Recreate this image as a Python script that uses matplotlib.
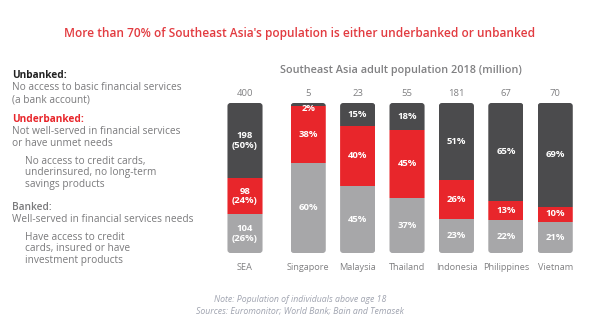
import matplotlib
matplotlib.use("Agg")
import matplotlib.pyplot as plt
from matplotlib.transforms import offset_copy
from matplotlib.patches import FancyBboxPatch

plt.rcParams['font.family'] = ['Open Sans', 'DejaVu Sans']

categories = ["SEA", "Singapore", "Malaysia", "Thailand", "Indonesia", "Philippines", "Vietnam"]
totals = [400, 5, 23, 55, 181, 67, 70]
unbanked_pct = [50, 2, 15, 18, 51, 65, 69]
underbanked_pct = [24, 38, 40, 45, 26, 13, 10]
banked_pct = [26, 60, 45, 37, 23, 22, 21]
sea_counts = {"unbanked": 198, "underbanked": 98, "banked": 104}

DARK = "#4b4b4d"
RED = "#e8262b"
LIGHT = "#a7a7a9"
TXT = "#7a7a7c"

W, H = 600, 336
fig = plt.figure(figsize=(6, 3.36), dpi=100)

def fx(px):
    return px / W

def fy(py):
    return 1 - py / H

fig.text(0.5, fy(33), "More than 70% of Southeast Asia's population is either underbanked or unbanked",
         ha="center", va="center", color="#e23b40", fontsize=8.6, fontweight="semibold")

# Left legend text
left = [
    (12, 75, "Unbanked:", "#222222", "bold"),
    (12, 88, "No access to basic financial services", TXT, "normal"),
    (12, 100, "(a bank account)", TXT, "normal"),
    (12, 119, "Underbanked:", RED, "bold"),
    (12, 132, "Not well-served in financial services", TXT, "normal"),
    (12, 144, "or have unmet needs", TXT, "normal"),
    (25, 161, "No access to credit cards,", TXT, "normal"),
    (25, 173, "underinsured, no long-term", TXT, "normal"),
    (25, 185, "savings products", TXT, "normal"),
    (12, 208, "Banked:", TXT, "semibold"),
    (12, 220, "Well-served in financial services needs", TXT, "normal"),
    (25, 237, "Have access to credit", TXT, "normal"),
    (25, 249, "cards, insured or have", TXT, "normal"),
    (25, 261, "investment products", TXT, "normal"),
]
for x, y, s, c, w in left:
    fig.text(fx(x), fy(y), s, ha="left", va="center", color=c, fontsize=7.3, fontweight=w)

fig.text(fx(401), fy(71), "Southeast Asia adult population 2018 (million)", ha="center", va="center",
         color="#808082", fontsize=7.8, fontweight="semibold")

# Bars
pos = [0] + [1.28 + i for i in range(len(categories) - 1)]
ax_px_w, ax_px_h = 370.5, 150.0
ax = fig.add_axes([fx(220.3), fy(253), fx(ax_px_w), ax_px_h / H])
ax.set_xlim(-0.5, 7.0)
ax.set_ylim(0, 100)
ax.axis("off")
bw = 0.71
c1 = ax.bar(pos, banked_pct, width=bw, color=LIGHT)
c2 = ax.bar(pos, underbanked_pct, width=bw, bottom=banked_pct, color=RED)
bottom2 = [b + u for b, u in zip(banked_pct, underbanked_pct)]
c3 = ax.bar(pos, unbanked_pct, width=bw, bottom=bottom2, color=DARK)

# rounded corners via clip paths
x_per_px = 7.5 / ax_px_w
y_per_px = 100 / ax_px_h
aspect = y_per_px / x_per_px
for i, p in enumerate(pos):
    clip = FancyBboxPatch((p - bw / 2, 0), bw, 100,
                          boxstyle=f"round,pad=0,rounding_size={3 * x_per_px}",
                          mutation_aspect=aspect, transform=ax.transData,
                          facecolor="none", edgecolor="none")
    ax.add_patch(clip)
    for cont in (c1, c2, c3):
        cont[i].set_clip_path(clip)

lab_kw = dict(ha="center", va="center", color="white", fontsize=6.8, fontweight="bold")
for i, p in enumerate(pos):
    b, u, n = banked_pct[i], underbanked_pct[i], unbanked_pct[i]
    if i == 0:
        ax.text(p, b / 2, f"{sea_counts['banked']}\n({b}%)", linespacing=1.1, **lab_kw)
        ax.text(p, b + u / 2, f"{sea_counts['underbanked']}\n({u}%)", linespacing=1.1, **lab_kw)
        ax.text(p, b + u + n / 2, f"{sea_counts['unbanked']}\n({n}%)", linespacing=1.1, **lab_kw)
    else:
        ax.text(p, b / 2, f"{b}%", **lab_kw)
        ax.text(p, b + u / 2, f"{u}%", **lab_kw)
        if n < 5:
            ax.text(p, 100, f"{n}%", ha="center", va="top", color="white", fontsize=6.8,
                    fontweight="bold",
                    transform=offset_copy(ax.transData, fig=fig, y=-0.5, units="points"))
        else:
            ax.text(p, b + u + n / 2, f"{n}%", **lab_kw)
    ax.text(p, 100, str(totals[i]), ha="center", va="bottom", color="#808082", fontsize=6.8,
            transform=offset_copy(ax.transData, fig=fig, y=3.5, units="points"), clip_on=False)
    ax.text(p, 0, categories[i], ha="center", va="top", color="#808082", fontsize=6.6,
            transform=offset_copy(ax.transData, fig=fig, y=-7, units="points"), clip_on=False)

fig.text(fx(300), fy(299), "Note: Population of individuals above age 18", ha="center", va="center",
         color="#a0a4b0", fontsize=6.3, style="italic")
fig.text(fx(300), fy(311), "Sources: Euromonitor; World Bank; Bain and Temasek", ha="center", va="center",
         color="#a0a4b0", fontsize=6.3, style="italic")

fig.savefig("out.png", dpi=100)
